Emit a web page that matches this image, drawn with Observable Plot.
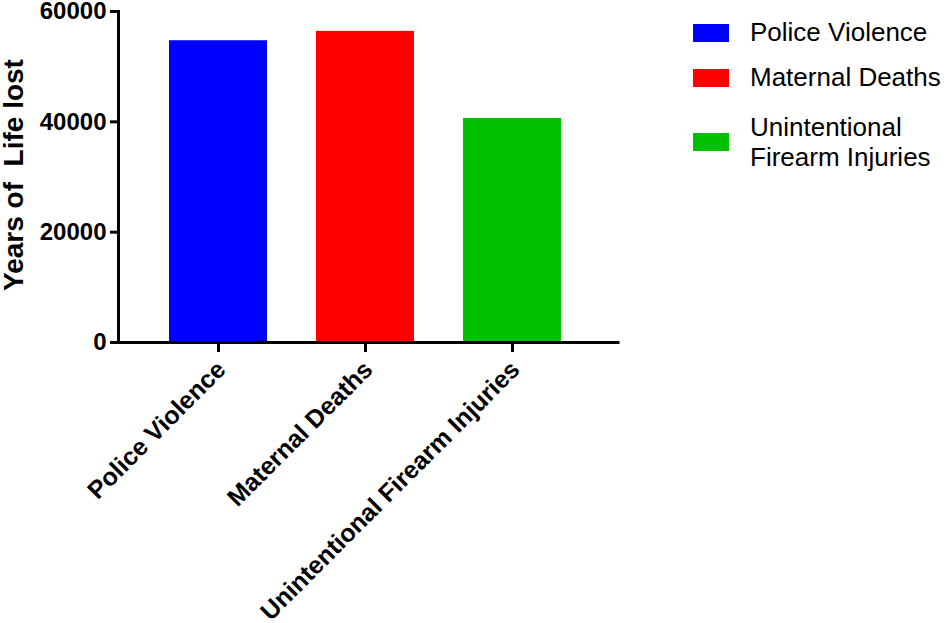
<!DOCTYPE html>
<html>
<head>
<meta charset="utf-8">
<script src="https://cdn.jsdelivr.net/npm/d3@7"></script>
<script src="https://cdn.jsdelivr.net/npm/@observablehq/plot@0.6"></script>
<style>
  body { margin: 0; background: #fff; font-family: "Liberation Sans", Arial, sans-serif; }
  #wrap { position: relative; width: 949px; height: 623px; }
  #legend { position: absolute; left: 693px; top: 0; width: 256px; height: 200px; font-size: 26px; color: #000; }
  .sw { position: absolute; left: 0; width: 36px; height: 18px; }
  .lb { position: absolute; left: 57px; line-height: 30px; white-space: nowrap; }
</style>
</head>
<body>
<div id="wrap"></div>
<script>
const categories = ["Police Violence", "Maternal Deaths", "Unintentional Firearm Injuries"];
const values = [54700, 56400, 40600];
const colors = ["#0000ff", "#ff0000", "#00c000"];
const legendLabels = [["Police Violence"], ["Maternal Deaths"], ["Unintentional", "Firearm Injuries"]];
const yTicks = [0, 20000, 40000, 60000];
const yLabel = "Years of\u00a0 Life lost";

const data = categories.map((c, i) => ({category: c, value: values[i], color: colors[i]}));

const chart = Plot.plot({
  width: 949,
  height: 623,
  marginLeft: 118,
  marginRight: 331,
  marginTop: 11,
  marginBottom: 281,
  style: {fontFamily: "'Liberation Sans', Arial, sans-serif", background: "#fff", color: "#000", overflow: "visible"},
  x: {domain: categories, paddingInner: 0.33, paddingOuter: 0.365, align: 0.47, axis: null},
  y: {domain: [0, 60000], axis: null},
  marks: [
    Plot.barY(data, {x: "category", y: "value", fill: "color"}),
    Plot.axisY({ticks: yTicks, tickFormat: d3.format("d"), tickSize: 8, tickPadding: 4, strokeWidth: 3,
      fontSize: 24, fontWeight: "bold", label: null}),
    Plot.axisX({tickSize: 10, strokeWidth: 3, tickFormat: () => "", label: null}),
    Plot.axisX({tickSize: 0, tickPadding: 23, tickRotate: -45, fontSize: 25,
      fontWeight: "bold", label: null, dx: 3}),
    Plot.ruleY([0], {strokeWidth: 3, strokeLinecap: "square"}),
    Plot.frame({anchor: "left", strokeWidth: 3}),
    Plot.text([yLabel], {frameAnchor: "left", dx: -104, dy: -2, rotate: -90, fontSize: 28, fontWeight: "bold",
      text: d => d, textAnchor: "middle"})
  ]
});
document.getElementById("wrap").appendChild(chart);

const legend = document.createElement("div");
legend.id = "legend";
const swTops = [24, 69, 133];
const lbTops = [17, 62, [112, 142]];
legendLabels.forEach((lines, i) => {
  const sw = document.createElement("div");
  sw.className = "sw";
  sw.style.top = swTops[i] + "px";
  sw.style.background = colors[i];
  legend.appendChild(sw);
  lines.forEach((t, j) => {
    const lb = document.createElement("div");
    lb.className = "lb";
    lb.textContent = t;
    lb.style.top = (Array.isArray(lbTops[i]) ? lbTops[i][j] : lbTops[i]) + "px";
    legend.appendChild(lb);
  });
});
document.getElementById("wrap").appendChild(legend);
</script>
</body>
</html>
